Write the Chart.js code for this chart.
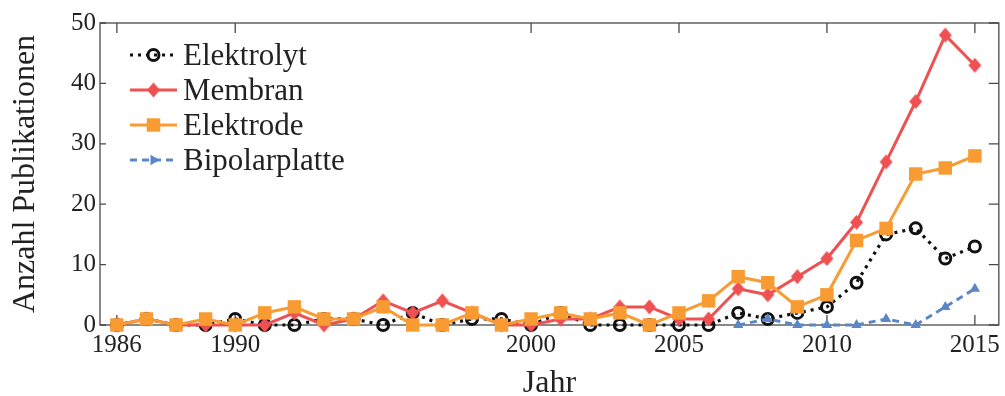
<!DOCTYPE html>
<html>
<head>
<meta charset="utf-8">
<script src="https://cdn.jsdelivr.net/npm/chart.js@4"></script>
<style>
html,body{margin:0;padding:0;background:#fff;}
#wrap{width:1005px;height:396px;}
</style>
</head>
<body>
<div id="wrap"><canvas id="c" width="1005" height="396"></canvas></div>
<script>
// ---- data ----
const years = [1986,1987,1988,1989,1990,1991,1992,1993,1994,1995,1996,1997,1998,1999,2000,2001,2002,2003,2004,2005,2006,2007,2008,2009,2010,2011,2012,2013,2014,2015];
const elektrolyt = [0,1,0,0,1,0,0,1,1,0,2,0,1,1,0,2,0,0,0,0,0,2,1,2,3,7,15,16,11,13];
const membran = [0,1,0,0,0,0,2,0,1,4,2,4,2,0,0,1,1,3,3,1,1,6,5,8,11,17,27,37,48,43];
const elektrode = [0,1,0,1,0,2,3,1,1,3,0,0,2,0,1,2,1,2,0,2,4,8,7,3,5,14,16,25,26,28];
const bipolarplatte = [null,null,null,null,null,null,null,null,null,null,null,null,null,null,null,null,null,null,null,null,null,0,1,0,0,0,1,0,3,6];
const xTickValues = [1986,1990,2000,2005,2010,2015];
const yTickValues = [0,10,20,30,40,50];
const seriesNames = ['Elektrolyt','Membran','Elektrode','Bipolarplatte'];

// ---- styles ----
const FONT = '"Liberation Serif", "Times New Roman", serif';
const AXIS_COLOR = '#4a4a4a';
const RED = '#EF5152';
const ORANGE = '#F99B33';
const BLUE = '#5B87C8';

function diamondCanvas(color){
  const c = document.createElement('canvas');
  c.width = 15; c.height = 17;
  const g = c.getContext('2d');
  g.fillStyle = color;
  g.beginPath();
  g.moveTo(7.5,1); g.lineTo(14,8.5); g.lineTo(7.5,16); g.lineTo(1,8.5); g.closePath();
  g.fill();
  return c;
}
const diamond = diamondCanvas(RED);

const toXY = arr => years.map((y,i)=>({x:y, y:arr[i]}));

const datasets = [
  {label:seriesNames[0], data:toXY(elektrolyt), borderColor:'#111', borderWidth:3.2, borderDash:[3,5],
   pointStyle:'circle', pointRadius:5.5, pointBorderWidth:3, pointBorderColor:'#111', pointBackgroundColor:'rgba(0,0,0,0)', order:4},
  {label:seriesNames[1], data:toXY(membran), borderColor:RED, borderWidth:3,
   pointStyle:diamond, pointRadius:7, pointBackgroundColor:RED, pointBorderWidth:0, order:3},
  {label:seriesNames[2], data:toXY(elektrode), borderColor:ORANGE, borderWidth:3,
   pointStyle:'rect', pointRadius:9.5, pointBackgroundColor:ORANGE, pointBorderWidth:0, order:2},
  {label:seriesNames[3], data:toXY(bipolarplatte), borderColor:BLUE, borderWidth:3, borderDash:[7,5],
   pointStyle:'triangle', pointRadius:6, pointBackgroundColor:BLUE, pointBorderWidth:0, order:1}
];
datasets.forEach(d=>{ d.tension=0; d.clip=false; d.fill=false; d.spanGaps=false; d.pointHoverRadius=d.pointRadius; });

const framePlugin = {
  id:'frame',
  beforeDatasetsDraw(chart){
    const {ctx, chartArea:a, scales:{x, y}} = chart;
    ctx.save();
    ctx.strokeStyle = AXIS_COLOR;
    ctx.lineWidth = 1.3;
    ctx.strokeRect(a.left, a.top, a.right-a.left, a.bottom-a.top);
    const XTL = 10, YTL = 6, YTR = 10;
    ctx.beginPath();
    xTickValues.forEach(v=>{
      const px = x.getPixelForValue(v);
      ctx.moveTo(px, a.bottom); ctx.lineTo(px, a.bottom-XTL);
      ctx.moveTo(px, a.top); ctx.lineTo(px, a.top+XTL);
    });
    yTickValues.forEach(v=>{
      const py = y.getPixelForValue(v);
      ctx.moveTo(a.left, py); ctx.lineTo(a.left+YTL, py);
      ctx.moveTo(a.right, py); ctx.lineTo(a.right-YTR, py);
    });
    ctx.stroke();
    ctx.restore();
  }
};

const legendPlugin = {
  id:'customLegend',
  afterDraw(chart){
    const ctx = chart.ctx;
    const x0 = 130, x1 = 177, mx = 153.5, tx = 183;
    const rows = [55, 90, 125, 160];
    chart.data.datasets.forEach((d,i)=>{
      const yy = rows[i];
      ctx.save();
      ctx.strokeStyle = d.borderColor;
      ctx.lineWidth = d.borderWidth;
      ctx.setLineDash(d.borderDash || []);
      ctx.beginPath(); ctx.moveTo(x0, yy); ctx.lineTo(x1, yy); ctx.stroke();
      ctx.setLineDash([]);
      ctx.fillStyle = d.pointBackgroundColor;
      ctx.strokeStyle = d.pointBorderColor || d.borderColor;
      ctx.lineWidth = d.pointBorderWidth;
      Chart.helpers.drawPoint(ctx, {pointStyle:d.pointStyle, radius:d.pointRadius, rotation:(i===3?90:0), borderWidth:d.pointBorderWidth}, mx, yy);
      ctx.fillStyle = '#222';
      ctx.font = '31px ' + FONT;
      ctx.textBaseline = 'alphabetic';
      ctx.textAlign = 'left';
      ctx.fillText(d.label, tx, yy + 9.5);
      ctx.restore();
    });
  }
};

new Chart(document.getElementById('c'), {
  type:'line',
  data:{datasets},
  options:{
    responsive:false,
    animation:false,
    events:[],
    layout:{autoPadding:false, padding:{top:23, right:5, bottom:0, left:0}},
    plugins:{legend:{display:false}, tooltip:{enabled:false}},
    scales:{
      x:{
        type:'linear', min:1985.43, max:2015.81,
        grid:{display:false, drawTicks:false}, border:{display:false},
        afterBuildTicks(s){ s.ticks = xTickValues.map(v=>({value:v})); },
        afterFit(s){ s.height = 71; },
        ticks:{callback:v=>String(v), color:'#222', font:{family:FONT, size:25}, padding:5, maxRotation:0, autoSkip:false},
        title:{display:true, text:'Jahr', color:'#222', font:{family:FONT, size:32, lineHeight:0.8}, padding:{top:0,bottom:0}}
      },
      y:{
        type:'linear', min:0, max:50,
        grid:{display:false, drawTicks:false}, border:{display:false},
        afterBuildTicks(s){ s.ticks = yTickValues.map(v=>({value:v})); },
        afterFit(s){ s.width = 100; },
        ticks:{callback:v=>String(v), color:'#222', font:{family:FONT, size:25}, padding:4},
        title:{display:true, text:'Anzahl Publikationen', color:'#222', font:{family:FONT, size:32, lineHeight:1}, padding:{top:10,bottom:0}}
      }
    }
  },
  plugins:[framePlugin, legendPlugin]
});
</script>
</body>
</html>
